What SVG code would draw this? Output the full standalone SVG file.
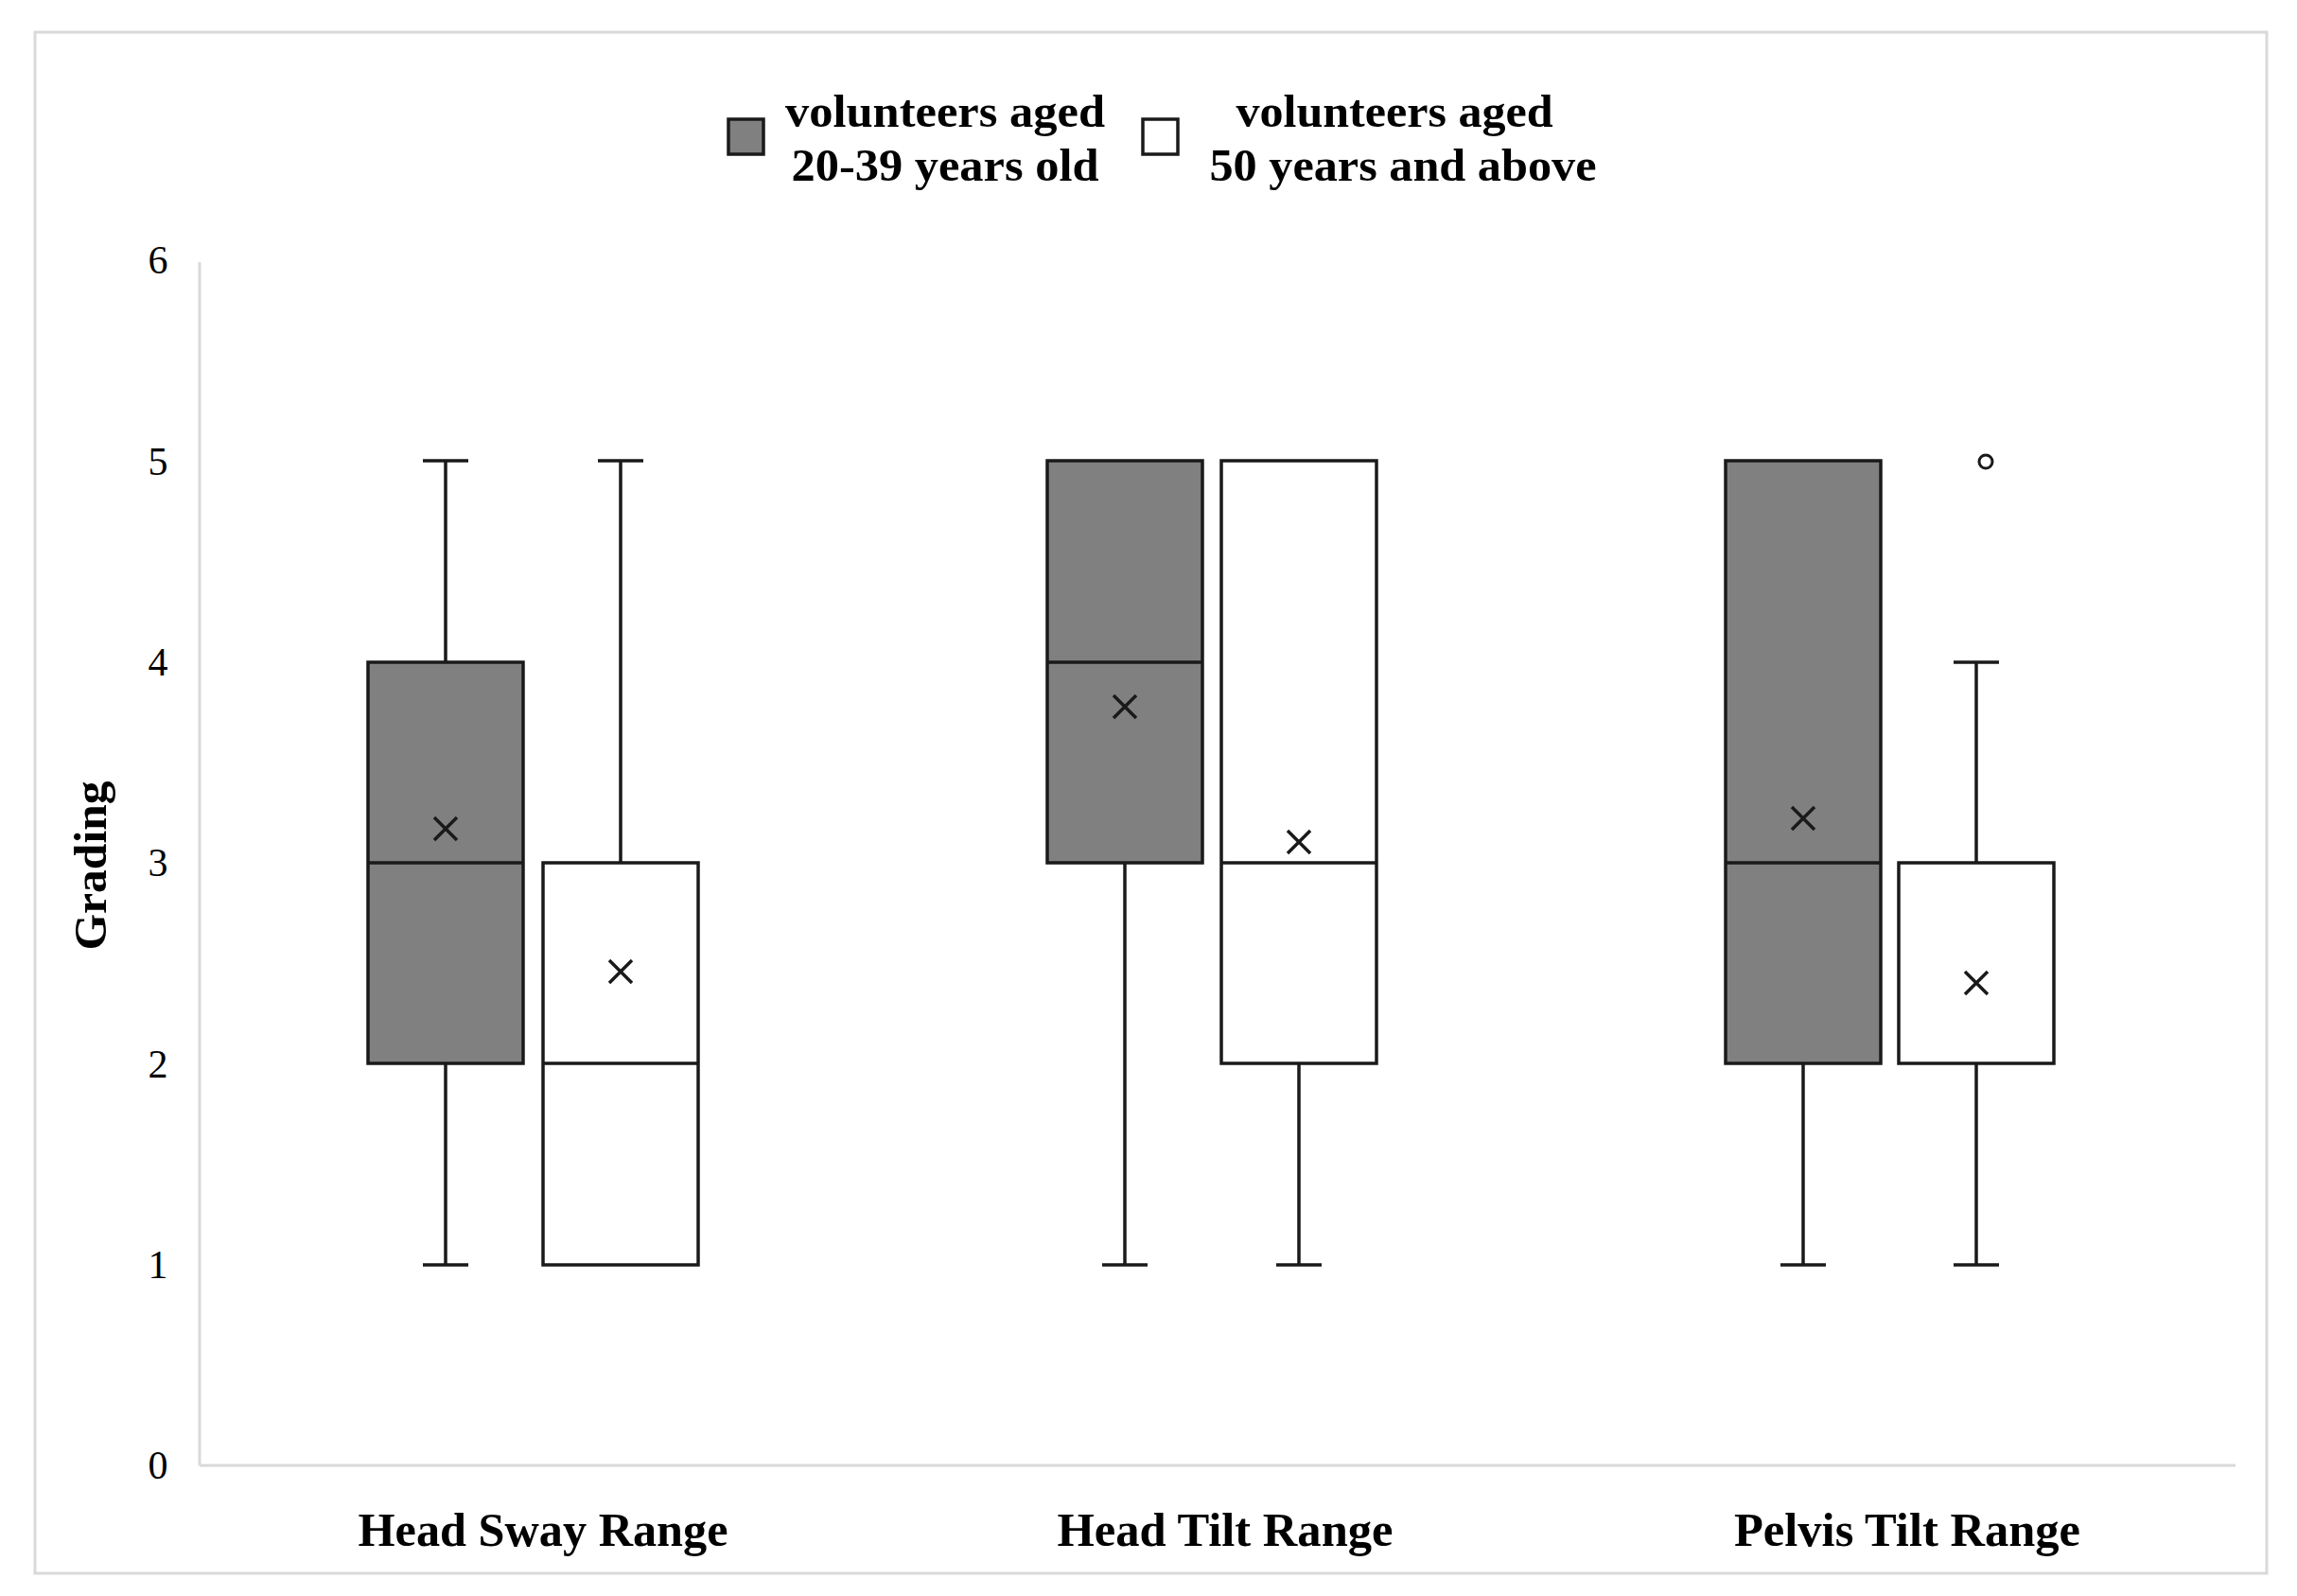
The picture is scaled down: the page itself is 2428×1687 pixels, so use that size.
<svg xmlns="http://www.w3.org/2000/svg" width="2428" height="1687" viewBox="0 0 2428 1687">
<style>
.t{font-family:"Liberation Serif",serif;fill:#000}
.b{font-weight:bold}
.box{stroke:#1a1a1a;stroke-width:3.5}
.dk{fill:#808080}
.wt{fill:#fff}
.w{stroke:#1a1a1a;stroke-width:3.5;fill:none}
.ax{stroke:#d9d9d9;stroke-width:3;fill:none}
</style>
<rect width="2428" height="1687" fill="#fff"/>
<rect x="37" y="34" width="2359" height="1629" fill="none" stroke="#d9d9d9" stroke-width="3"/>
<g id="axes">
<line class="ax" x1="211" y1="277" x2="211" y2="1549"/>
<line class="ax" x1="211" y1="1549" x2="2363" y2="1549"/>
<g class="t" font-size="42" text-anchor="middle">
<text x="167" y="1563">0</text><text x="167" y="1351">1</text><text x="167" y="1139">2</text>
<text x="167" y="926">3</text><text x="167" y="714">4</text><text x="167" y="502">5</text><text x="167" y="289">6</text>
</g>
<text class="t b" font-size="48" transform="translate(112,915) rotate(-90)" text-anchor="middle" textLength="179" lengthAdjust="spacingAndGlyphs">Grading</text>
<g class="t b" font-size="50" text-anchor="middle">
<text x="574" y="1634" textLength="391" lengthAdjust="spacingAndGlyphs">Head Sway Range</text>
<text x="1295" y="1634" textLength="355" lengthAdjust="spacingAndGlyphs">Head Tilt Range</text>
<text x="2016" y="1634" textLength="366" lengthAdjust="spacingAndGlyphs">Pelvis Tilt Range</text>
</g>
</g>
<g id="legend">
<rect class="box dk" x="770" y="126" width="37" height="37"/>
<text class="t b" font-size="48" text-anchor="middle" x="999" y="134" textLength="338" lengthAdjust="spacingAndGlyphs">volunteers aged</text>
<text class="t b" font-size="48" text-anchor="middle" x="999" y="191" textLength="325" lengthAdjust="spacingAndGlyphs">20-39 years old</text>
<rect class="box wt" x="1208" y="126" width="37" height="37"/>
<text class="t b" font-size="48" text-anchor="middle" x="1474" y="134" textLength="335" lengthAdjust="spacingAndGlyphs">volunteers aged</text>
<text class="t b" font-size="48" text-anchor="middle" x="1483" y="191" textLength="409" lengthAdjust="spacingAndGlyphs">50 years and above</text>
</g>
<g id="connectors">
<path class="w" d="M471 700V487M447 487H495M471 1124V1337M447 1337H495"/>
<path class="w" d="M656 912V487M632 487H680"/>
<path class="w" d="M1189 912V1337M1165 1337H1213"/>
<path class="w" d="M1373 1124V1337M1349 1337H1397"/>
<path class="w" d="M1906 1124V1337M1882 1337H1930"/>
<path class="w" d="M2089 912V700M2065 700H2113M2089 1124V1337M2065 1337H2113"/>
</g>
<g id="hs-young">
<rect class="box dk" x="389" y="700" width="164" height="424"/>
<line class="w" x1="389" y1="912" x2="553" y2="912"/>
<path class="w" d="M459 864L483 888M483 864L459 888"/>
</g>
<g id="hs-old">
<rect class="box wt" x="574" y="912" width="164" height="425"/>
<line class="w" x1="574" y1="1124" x2="738" y2="1124"/>
<path class="w" d="M644 1015L668 1039M668 1015L644 1039"/>
</g>
<g id="ht-young">
<rect class="box dk" x="1107" y="487" width="164" height="425"/>
<line class="w" x1="1107" y1="700" x2="1271" y2="700"/>
<path class="w" d="M1177 735L1201 759M1201 735L1177 759"/>
</g>
<g id="ht-old">
<rect class="box wt" x="1291" y="487" width="164" height="637"/>
<line class="w" x1="1291" y1="912" x2="1455" y2="912"/>
<path class="w" d="M1361 878L1385 902M1385 878L1361 902"/>
</g>
<g id="pt-young">
<rect class="box dk" x="1824" y="487" width="164" height="637"/>
<line class="w" x1="1824" y1="912" x2="1988" y2="912"/>
<path class="w" d="M1894 853L1918 877M1918 853L1894 877"/>
</g>
<g id="pt-old">
<rect class="box wt" x="2007" y="912" width="164" height="212"/>
<path class="w" d="M2077 1027L2101 1051M2101 1027L2077 1051"/>
<circle cx="2099" cy="488" r="7" fill="#fff" stroke="#1a1a1a" stroke-width="3"/>
</g>
</svg>
